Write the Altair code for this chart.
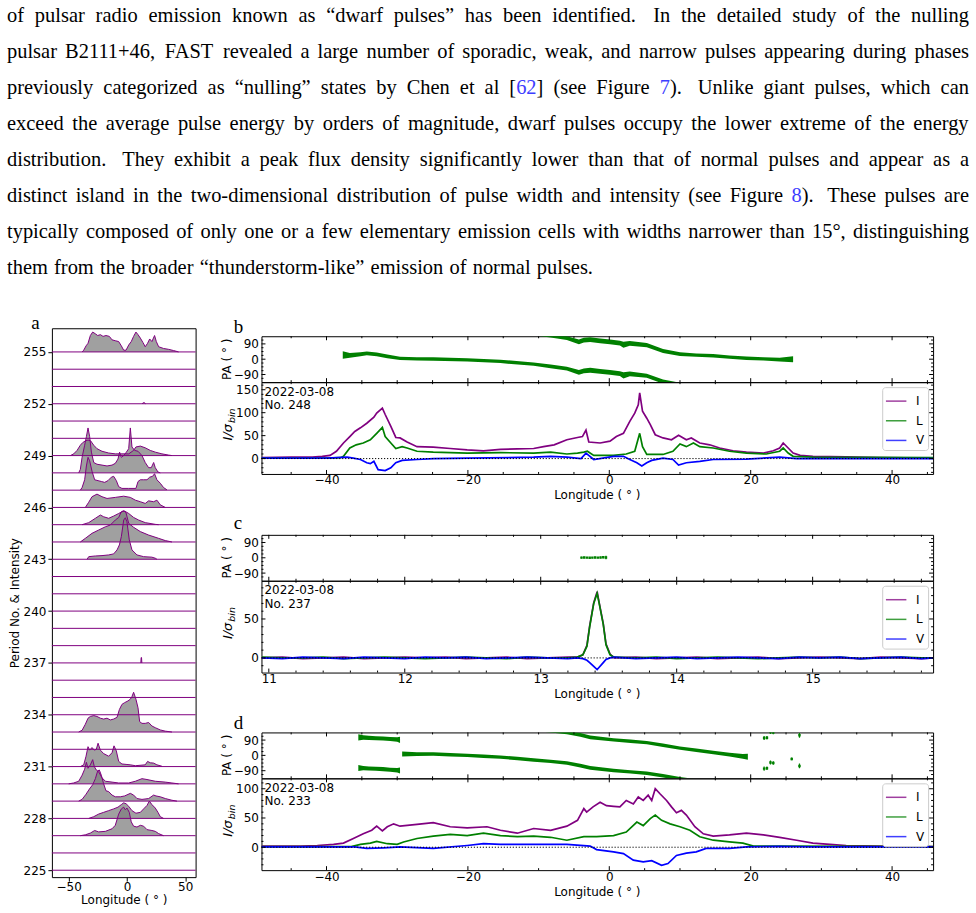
import altair as alt
import pandas as pd

SANS = "DejaVu Sans"
SERIF = "Liberation Serif"
PURPLE = "#800080"
GREEN = "#008000"
BLUE = "#0000ff"
LINK = "#3d3dff"

# ---------------- paragraph text ----------------
TEXT_LINES = [
    "of pulsar radio emission known as “dwarf pulses” has been identified.  In the detailed study of the nulling",
    "pulsar B2111+46, FAST revealed a large number of sporadic, weak, and narrow pulses appearing during phases",
    "previously categorized as “nulling” states by Chen et al [{62}] (see Figure {7}).  Unlike giant pulses, which can",
    "exceed the average pulse energy by orders of magnitude, dwarf pulses occupy the lower extreme of the energy",
    "distribution.  They exhibit a peak flux density significantly lower than that of normal pulses and appear as a",
    "distinct island in the two-dimensional distribution of pulse width and intensity (see Figure {8}).  These pulses are",
    "typically composed of only one or a few elementary emission cells with widths narrower than 15°, distinguishing",
    "them from the broader “thunderstorm-like” emission of normal pulses.",
]
TEXT_JUSTIFIED = [True, True, True, True, True, True, True, False]

# ---------------- panel a : single-pulse stack ----------------
A_PERIODS = list(range(225, 256))
A_TICKS = list(range(225, 256, 3))

A255_LON = [-38.5, -37.1, -35.1, -33.4, -31.4, -29.4, -27.1, -25.1, -22.8, -20.5, -18.0, -15.1, -12.8, -10.0, -7.1, -4.8, -2.8, -0.8, 1.5, 3.7, 5.7, 7.7, 9.5, 11.5, 13.7, 15.7, 17.7, 19.5, 21.4, 23.7, 25.2, 27.2, 31.4, 35.7, 40.0, 44.3]
A255_H = [0, 0.1, 0.35, 0.5, 0.95, 1.15, 1.05, 0.95, 1.0, 0.9, 0.95, 0.9, 0.7, 0.65, 0.6, 0.35, 0.1, 0.1, 0.4, 0.6, 0.9, 1.15, 1.0, 0.8, 0.55, 0.3, 0.5, 0.75, 0.6, 0.95, 0.6, 0.3, 0.2, 0.15, 0.08, 0]
A252_LON = [13.0, 14.0, 15.0, 16.0]
A252_H = [0, 0.06, 0.06, 0]
A249_LON = [-48.5, -45.7, -42.8, -40.0, -38.0, -35.7, -33.4, -31.1, -28.5, -25.7, -21.4, -15.7, -10.0, -5.7, 1.5, 5.7, 7.7, 11.5, 15.7, 20.0, 24.3, 30.0, 35.7, 38.6]
A249_H = [0, 0.1, 0.3, 0.6, 0.75, 0.85, 0.9, 0.85, 0.6, 0.4, 0.25, 0.15, 0.1, 0.1, 0.1, 0.3, 0.5, 0.55, 0.45, 0.3, 0.2, 0.1, 0.03, 0]
A248_LON = [-41.4, -40.0, -38.5, -36.3, -34.8, -33.4, -32.0, -30.5, -28.5, -25.7, -21.4, -17.1, -12.8, -10.0, -7.7, -6.3, -4.8, -2.8, -0.5, 1.5, 2.9, 4.3, 6.6, 9.5, 12.9, 15.7, 18.6, 20.9, 22.9, 24.3, 26.6, 28.6]
A248_H = [0, 0.2, 0.9, 1.6, 2.1, 2.6, 2.1, 1.2, 0.6, 0.5, 0.45, 0.4, 0.45, 0.55, 0.8, 1.2, 0.9, 1.0, 1.2, 1.4, 2.6, 1.5, 1.3, 1.25, 1.0, 0.6, 0.3, 0.3, 0.6, 0.3, 0.05, 0]
A247_LON = [-40.0, -38.5, -36.3, -34.8, -33.4, -32.0, -30.0, -27.7, -24.8, -22.0, -19.1, -16.3, -13.4, -11.4, -9.1, -7.1, -4.3, 1.5, 7.7, 9.5, 11.5, 14.3, 17.2, 19.5, 22.0, 23.7, 25.7, 28.6, 31.4, 34.3]
A247_H = [0, 0.15, 0.6, 1.4, 1.9, 1.7, 1.1, 0.6, 0.55, 0.5, 0.45, 0.55, 0.75, 0.8, 0.55, 0.2, 0.1, 0.1, 0.1, 0.5, 0.6, 0.6, 0.6, 0.75, 0.8, 0.95, 0.6, 0.4, 0.15, 0.02]
A246_LON = [-35.7, -32.8, -30.0, -25.7, -21.4, -17.1, -10.0, -2.8, 2.9, 7.2, 11.5, 15.7, 18.6, 22.9, 25.7, 28.6, 32.9]
A246_H = [0, 0.3, 0.62, 0.77, 0.62, 0.52, 0.58, 0.65, 0.58, 0.42, 0.33, 0.23, 0.38, 0.33, 0.42, 0.15, 0]
A245_LON = [-38.5, -32.8, -27.1, -22.8, -20.0, -15.7, -11.4, -7.1, -4.3, -2.0, 1.5, 5.7, 10.0, 15.7, 24.3, 27.2]
A245_H = [0, 0.12, 0.37, 0.56, 0.46, 0.37, 0.5, 0.65, 0.75, 0.79, 0.65, 0.42, 0.27, 0.12, 0.02, 0]
A244_LON = [-40.0, -35.7, -30.0, -24.3, -18.5, -14.3, -10.0, -7.1, -4.8, -2.8, -0.8, 1.5, 5.7, 11.5, 18.6, 27.2, 32.9, 38.6]
A244_H = [0, 0.21, 0.5, 0.69, 0.88, 0.98, 1.27, 1.42, 1.75, 1.81, 1.69, 1.08, 0.85, 0.6, 0.4, 0.21, 0.08, 0]
A243_LON = [-34.2, -32.8, -27.1, -21.4, -15.7, -11.4, -8.5, -6.5, -4.8, -2.8, -1.4, 0.0, 2.0, 4.3, 8.6, 14.3, 21.4, 24.3, 25.7]
A243_H = [0, 0.15, 0.19, 0.21, 0.25, 0.31, 0.54, 0.83, 1.31, 2.27, 2.4, 2.17, 1.12, 0.54, 0.25, 0.15, 0.12, 0.06, 0]
A237_LON = [11.9, 12.2, 12.5, 12.8]
A237_H = [0, 0.31, 0.31, 0]
A233_LON = [-41.4, -38.5, -35.7, -33.4, -31.4, -28.5, -25.7, -22.8, -20.0, -17.1, -14.3, -11.4, -8.5, -6.5, -4.3, -2.0, 0.9, 2.9, 4.3, 5.7, 7.7, 9.5, 10.9, 12.9, 15.7, 18.6, 21.4, 24.3, 28.6, 32.9, 38.6]
A233_H = [0, 0.1, 0.45, 0.8, 0.9, 0.95, 0.9, 0.8, 0.75, 0.8, 0.7, 0.75, 0.85, 1.3, 1.6, 1.7, 1.8, 1.9, 2.05, 2.3, 1.9, 1.4, 0.6, 0.5, 0.5, 0.55, 0.35, 0.25, 0.12, 0.05, 0]
A231_LON = [-40.0, -37.1, -35.1, -33.4, -32.0, -30.0, -28.0, -26.3, -24.8, -22.8, -20.0, -15.7, -12.8, -11.1, -9.1, -7.1, -4.3, 0.0, 2.9, 7.2, 15.7, 17.7, 20.0, 22.9, 25.7, 30.0]
A231_H = [0, 0.1, 0.6, 1.15, 0.95, 1.1, 0.95, 1.0, 1.35, 0.95, 0.75, 0.6, 0.8, 1.2, 0.9, 0.3, 0.15, 0.12, 0.1, 0.05, 0.1, 0.3, 0.22, 0.2, 0.1, 0.02]
A230_LON = [-50.0, -45.7, -41.4, -38.5, -36.3, -34.8, -33.4, -31.4, -29.4, -28.0, -26.3, -24.3, -21.4, -18.5, -12.8, -7.1, 1.5, 7.2, 12.9, 17.2, 24.3, 32.9, 38.6, 44.3]
A230_H = [0, 0.05, 0.15, 0.5, 0.85, 1.25, 0.9, 1.1, 1.4, 1.0, 0.8, 0.7, 0.35, 0.15, 0.1, 0.05, 0.05, 0.15, 0.3, 0.25, 0.15, 0.1, 0.05, 0]
A229_LON = [-41.4, -38.5, -35.1, -32.2, -29.4, -27.1, -25.1, -23.7, -22.0, -20.0, -18.0, -15.7, -12.8, -10.0, -5.7, -2.0, 2.9, 5.7, 8.6, 12.9, 18.6, 22.9, 24.9, 28.6, 32.9, 38.6, 42.9]
A229_H = [0, 0.1, 0.4, 0.7, 0.95, 1.3, 1.75, 1.8, 1.5, 1.0, 0.6, 0.55, 0.35, 0.25, 0.25, 0.3, 0.45, 0.35, 0.15, 0.1, 0.15, 0.35, 0.3, 0.25, 0.15, 0.05, 0]
A228_LON = [-32.8, -28.5, -24.3, -20.0, -15.7, -11.4, -7.7, -4.8, -2.8, -0.8, 1.5, 4.3, 7.7, 11.5, 14.3, 17.2, 19.2, 21.4, 24.3, 26.6, 28.6, 31.4]
A228_H = [0, 0.1, 0.25, 0.35, 0.45, 0.55, 0.65, 0.8, 0.9, 0.85, 0.7, 0.45, 0.3, 0.35, 0.55, 0.75, 1.0, 0.8, 0.6, 0.35, 0.1, 0]
A227_LON = [-40.0, -35.7, -31.4, -27.7, -24.3, -18.5, -12.8, -10.0, -7.1, -4.8, -2.8, -1.4, 0.0, 2.0, 3.7, 5.7, 8.6, 11.5, 14.3, 17.2, 21.4, 24.3, 27.2, 31.4]
A227_H = [0, 0.05, 0.15, 0.3, 0.22, 0.25, 0.4, 0.6, 1.25, 1.55, 1.65, 1.5, 1.6, 1.35, 0.8, 0.55, 0.5, 0.6, 0.55, 0.35, 0.3, 0.25, 0.12, 0]

A_PULSES = [
    (255, A255_LON, A255_H), (252, A252_LON, A252_H), (249, A249_LON, A249_H),
    (248, A248_LON, A248_H), (247, A247_LON, A247_H), (246, A246_LON, A246_H),
    (245, A245_LON, A245_H), (244, A244_LON, A244_H), (243, A243_LON, A243_H),
    (237, A237_LON, A237_H), (233, A233_LON, A233_H), (231, A231_LON, A231_H),
    (230, A230_LON, A230_H), (229, A229_LON, A229_H), (228, A228_LON, A228_H),
    (227, A227_LON, A227_H),
]

# ---------------- panel b : No. 248 ----------------
B_I_LON = [-49.2, -45.0, -42.0, -40.6, -39.5, -38.6, -37.6, -36.7, -36.0, -35.2, -34.3, -33.3, -32.9, -32.1, -31.7, -30.9, -30.2, -29.6, -28.6, -27.2, -24.9, -22.5, -20.1, -17.8, -15.4, -13.0, -10.7, -9.3, -7.8, -6.0, -4.5, -3.8, -3.3, -2.9, -1.3, 0.1, 1.0, 2.0, 2.9, 3.6, 4.1, 4.3, 4.7, 5.3, 5.8, 6.5, 7.6, 8.8, 9.8, 10.9, 11.6, 12.8, 14.2, 15.6, 17.5, 19.4, 21.8, 23.2, 24.1, 24.6, 25.3, 26.0, 27.0, 28.8, 33.5, 38.2, 45.8]
B_I_VAL = [2, 3, 3, 5, 7, 16, 34, 48, 59, 67, 77, 90, 99, 110, 96, 70, 46, 45, 36, 26, 25, 22, 19, 17, 20, 21, 22, 26, 30, 41, 46, 48, 62, 36, 34, 38, 48, 55, 81, 99, 117, 143, 103, 88, 74, 52, 45, 41, 51, 41, 45, 34, 30, 23, 17, 14, 12, 17, 23, 34, 23, 12, 7, 5, 4, 2, 1]
B_L_LON = [-49.2, -40.0, -38.0, -37.6, -36.7, -35.8, -34.8, -33.8, -32.9, -32.1, -31.7, -30.9, -30.2, -29.3, -28.6, -27.2, -24.9, -20.1, -15.4, -10.7, -8.3, -6.0, -4.5, -3.6, -3.1, -2.2, 0.6, 2.4, 3.6, 4.3, 4.7, 5.3, 7.6, 9.0, 10.0, 10.9, 11.9, 12.8, 14.7, 17.0, 19.4, 22.2, 24.1, 24.6, 25.3, 26.0, 28.8, 45.8]
B_L_VAL = [1, 1, 2, 5, 23, 30, 34, 41, 55, 68, 48, 34, 22, 26, 23, 16, 14, 12, 13, 12, 14, 10, 12, 14, 16, 7, 7, 10, 16, 55, 26, 9, 9, 16, 32, 26, 34, 26, 23, 16, 12, 10, 16, 23, 12, 5, 3, 2]
B_V_LON = [-49.2, -40.0, -37.1, -36.2, -35.2, -34.3, -33.8, -33.3, -32.7, -31.7, -30.9, -30.2, -29.3, -27.2, -24.9, -20.1, -10.7, -8.3, -6.0, -4.0, -3.3, -2.2, 0.6, 2.0, 2.9, 3.9, 4.6, 5.3, 6.0, 7.6, 9.0, 9.8, 10.9, 12.8, 14.7, 19.4, 24.1, 26.5, 45.8]
B_V_VAL = [1, 1, 3, 1, -2, -9, -11, -6, -24, -26, -20, -9, -4, -2, 0, 1, 3, 5, 3, 0, 12, -2, 5, 5, -2, -9, -16, -9, -4, 1, -2, -14, -9, -6, -2, -1, 3, 0, 0]
B_PA_LON = [-37.7, -36.7, -35.2, -34.3, -32.9, -31.4, -29.6, -27.2, -24.9, -20.1, -15.4, -10.7, -8.3, -6.0, -4.3, -3.6, -2.7, -1.3, 0.1, 1.5, 2.0, 2.9, 5.3, 7.6, 10.0, 12.3, 14.7, 17.0, 19.4, 21.8, 24.1, 26.0]
B_PA_VAL = [25, 22, 29, 34, 29, 16, 5, 2, 1, -4, -13, -29, -42, -56, -78, -68, -65, -72, -78, -85, -95, -87, -97, -132, -150, -156, -160, -168, -174, -178, -182, -180]
B_PA_ERR = [22, 14, 12, 11, 11, 11, 10, 10, 10, 10, 10, 10, 11, 11, 14, 14, 14, 14, 14, 14, 18, 14, 12, 12, 11, 10, 10, 10, 10, 10, 11, 18]

# ---------------- panel c : No. 237 ----------------
C_LON = [10.95, 11.1, 11.25, 11.4, 11.55, 11.7, 11.85, 12.0, 12.15, 12.3, 12.45, 12.6, 12.75, 12.9, 13.05, 13.2, 13.27, 13.31, 13.34, 13.36, 13.39, 13.415, 13.43, 13.46, 13.48, 13.51, 13.54, 13.7, 13.85, 14.0, 14.15, 14.3, 14.45, 14.6, 14.75, 14.9, 15.05, 15.2, 15.35, 15.5, 15.65, 15.8, 15.89]
C_I_VAL = [0, 1, -1, 0, 1, -1, 0, 1, 0, 1, -1, 0, 1, -1, 0, 1, 1, 4, 16, 41, 71, 85, 71, 44, 18, 5, 0, 1, -1, 0, 1, -1, 0, 1, -1, 0, 1, 0, -1, 1, 0, -1, 0]
C_L_VAL = [1, 0, 0, 1, -1, 0, 1, 0, -1, 0, 1, 0, -1, 1, 0, 0, 1, 4, 15, 40, 70, 83, 70, 43, 17, 4, 1, 0, 1, -1, 0, 1, 0, -1, 0, 1, 0, 1, -1, 0, 1, 0, 0]
C_V_VAL = [0, -1, 1, 0, -1, 1, 0, -1, 1, 0, 1, -1, 0, 1, 0, -1, 0, -1, -3, -6, -11, -15, -12, -6, -2, 0, 1, -1, 0, 1, -1, 0, 1, 0, -1, 1, 0, 1, -1, 0, 1, -1, 0]
C_PA_LON = [13.30, 13.32, 13.34, 13.36, 13.38, 13.40, 13.42, 13.44, 13.46, 13.48]
C_PA_VAL = [1, 2, 1, 0, 1, 2, 1, 2, 3, 2]
C_PA_ERR = [5, 4, 4, 4, 4, 4, 4, 4, 5, 10]

# ---------------- panel d : No. 233 ----------------
D_I_LON = [-49.2, -43.7, -41.3, -39.0, -37.6, -36.2, -34.8, -33.6, -32.9, -32.1, -31.4, -30.5, -29.6, -27.2, -24.9, -22.5, -20.1, -17.3, -15.4, -13.0, -10.7, -8.3, -6.0, -4.5, -3.6, -3.2, -2.3, -1.3, -0.4, 0.6, 1.5, 2.4, 3.4, 4.1, 4.8, 5.5, 6.0, 6.5, 7.2, 8.1, 8.8, 9.5, 10.2, 10.9, 12.1, 13.3, 14.7, 17.0, 19.4, 21.8, 24.1, 26.5, 28.8, 31.2, 33.5, 38.2, 45.8]
D_I_VAL = [2, 2, 3, 5, 7, 15, 23, 29, 36, 28, 35, 40, 36, 39, 42, 35, 33, 35, 29, 24, 32, 29, 36, 46, 66, 60, 69, 77, 71, 70, 69, 80, 74, 86, 80, 89, 80, 100, 91, 80, 69, 59, 63, 55, 35, 23, 19, 21, 24, 21, 17, 12, 7, 5, 3, 2, 1]
D_L_LON = [-49.2, -36.5, -35.2, -33.8, -32.9, -31.4, -30.0, -29.1, -27.2, -24.9, -22.5, -20.1, -17.8, -15.4, -13.0, -10.7, -8.3, -6.0, -3.6, -1.8, 0.6, 2.4, 3.9, 4.8, 5.8, 6.5, 7.4, 8.6, 10.0, 11.4, 12.8, 14.7, 17.0, 18.9, 20.4, 24.0, 45.8]
D_L_VAL = [1, 1, 5, 7, 10, 6, 5, 9, 15, 19, 22, 20, 24, 20, 18, 19, 17, 12, 18, 18, 20, 26, 43, 37, 49, 55, 46, 40, 35, 29, 18, 12, 9, 7, 2, 2, 1]
D_V_LON = [-49.2, -36.0, -34.3, -31.9, -29.6, -24.9, -20.1, -17.8, -15.4, -10.7, -6.0, -2.7, -1.8, 0.6, 2.0, 3.4, 4.8, 6.0, 7.4, 8.3, 9.5, 10.9, 12.3, 13.7, 17.0, 19.4, 24.0, 28.8, 45.8]
D_V_VAL = [0.5, 0.5, -2, -1, 0.5, -2, 3, 6, 5, 5, 5, 2, -4, -8, -11, -22, -25, -23, -31, -28, -14, -10, -8, -2, -2, 0.5, 1.5, 0.5, 0.5]
D_PA_A_LON = [-35.5, -34.8, -34.0, -33.0, -32.0, -31.0, -30.0, -29.6]
D_PA_A_VAL = [-74, -75, -77, -79, -81, -84, -87, -89]
D_PA_A_ERR = [18, 13, 12, 12, 12, 12, 13, 18]
D_PA_B_LON = [-29.3, -27.2, -24.9, -22.5, -20.1, -17.8, -15.4, -13.0, -10.7, -8.3, -6.0, -4.1, -2.7, 0.6, 3.0, 5.3, 7.6, 10.0, 12.3, 14.7, 17.0, 18.9, 19.6]
D_PA_B_VAL = [8, 8, 8, 4, 0, -5, -10, -18, -27, -35, -45, -60, -74, -89, -97, -105, -120, -137, -150, -163, -176, -186, -188]
D_PA_B_ERR = [15, 11, 10, 10, 10, 10, 10, 10, 10, 10, 10, 11, 11, 10, 10, 10, 10, 10, 10, 10, 11, 14, 18]
D_PA_S_LON = [21.9, 22.3, 22.8, 23.2, 25.8, 26.9]
D_PA_S_VAL = [-78, -76, -42, -45, -21, -62]
D_PA_S_ERR = [12, 10, 12, 10, 8, 14]

# ---------------- layout (page pixels) ----------------
A_LEFT, A_TOP, A_W, A_H = 51, 327, 144, 550
R_LEFT, R_W = 261, 673
PA_H, INT_H = 46, 92
B_TOP, C_TOP, D_TOP = 335, 534, 732
FS = 20.5
TEXT_BASE0, TEXT_STEP = 20.5, 36.05

TIMES = {' ': 250, '(': 333, ')': 333, '+': 564, ',': 250, '-': 333, '.': 250, '[': 333, ']': 333,
         '°': 400, '“': 444, '”': 444, 'A': 722, 'B': 667, 'C': 667, 'F': 556, 'I': 333, 'L': 611,
         'S': 556, 'T': 611, 'U': 722, 'a': 444, 'b': 500, 'c': 444, 'd': 500, 'e': 444, 'f': 333,
         'g': 500, 'h': 500, 'i': 278, 'j': 278, 'k': 500, 'l': 278, 'm': 778, 'n': 500, 'o': 500,
         'p': 500, 'q': 500, 'r': 333, 's': 389, 't': 278, 'u': 500, 'v': 500, 'w': 722, 'x': 500,
         'y': 500, 'z': 444}


def wem(s):
    return sum(TIMES.get(ch, 500) for ch in s) / 1000.0


def parse(tok):
    segs, buf, blue = [], "", False
    for ch in tok:
        if ch == "{":
            if buf:
                segs.append((buf, blue))
            buf, blue = "", True
        elif ch == "}":
            segs.append((buf, True))
            buf, blue = "", False
        else:
            buf += ch
    if buf:
        segs.append((buf, blue))
    return segs


def text_rows():
    rows = []
    X0, X1 = 6.0, 970.0
    for i, (line, just) in enumerate(zip(TEXT_LINES, TEXT_JUSTIFIED)):
        yb = TEXT_BASE0 + TEXT_STEP * i
        words, gaps, flag = [], [], False
        for p in line.split(" "):
            if p == "":
                flag = True
                continue
            if words:
                gaps.append(1.6 if flag else 1.0)
            flag = False
            words.append(parse(p))
        widths = [sum(wem(s) for s, _ in w) * FS for w in words]
        if just and gaps:
            unit = (X1 - X0 - sum(widths)) / sum(gaps)
        else:
            unit = 0.3 * FS
        x = X0
        for k, w in enumerate(words):
            xx = x
            for s, blue in w:
                rows.append(dict(x=xx, y=yb, t=s, c=LINK if blue else "black"))
                xx += wem(s) * FS
            x += widths[k] + (unit * gaps[k] if k < len(gaps) else 0)
    return pd.DataFrame(rows)


NOSTROKE = alt.ViewBackground(stroke="transparent")


def label(txt, x, y, size=12, font=SANS, **kw):
    return alt.Chart(pd.DataFrame({"t": [txt]})).mark_text(
        font=font, fontSize=size, color="black", **kw
    ).encode(text="t:N", x=alt.value(x), y=alt.value(y))


# ---------------- text chart ----------------
TXT_W = R_LEFT + R_W - A_LEFT
xs_page = alt.Scale(domain=[A_LEFT, A_LEFT + TXT_W], nice=False, zero=False)
ys_page = alt.Scale(domain=[0, A_TOP], nice=False, zero=False, reverse=True)
page_rect = alt.Chart(pd.DataFrame({"x": [0], "x2": [976], "y": [0], "y2": [913]})).mark_rect(
    fill="white", fillOpacity=0, strokeWidth=0
).encode(
    x=alt.X("x:Q", scale=xs_page, axis=None), x2="x2:Q",
    y=alt.Y("y:Q", scale=ys_page, axis=None), y2="y2:Q",
)
words = alt.Chart(text_rows()).mark_text(
    font=SERIF, fontSize=FS, align="left", baseline="alphabetic"
).encode(
    x=alt.X("x:Q", scale=xs_page, axis=None),
    y=alt.Y("y:Q", scale=ys_page, axis=None),
    text="t:N",
    color=alt.Color("c:N", scale=None),
)
text_chart = alt.layer(page_rect, words).properties(width=TXT_W, height=A_TOP, view=NOSTROKE)

# ---------------- panel a ----------------
rows = []
for p, lons, hs in A_PULSES:
    if len(lons) != len(hs):
        raise ValueError(f"pulse {p}: {len(lons)} vs {len(hs)}")
    for lo, h in zip(lons, hs):
        rows.append(dict(p=p, lon=lo, top=p + h, base=p))
df_a = pd.DataFrame(rows)
xs_a = alt.Scale(domain=[-64.4, 58.9], nice=False, zero=False)
ys_a = alt.Scale(domain=[224.6, 256.37], nice=False, zero=False)
ax_xa = alt.Axis(values=[-50, 0, 50], title="Longitude ( ° )", grid=False, domain=False, tickSize=4,
                 labelPadding=0, titlePadding=2, format="d")
ax_ya = alt.Axis(values=A_TICKS, title="Period No. & Intensity", grid=False, domain=False, tickSize=4,
                 labelPadding=2, titlePadding=2, format="d")
a_rules = alt.Chart(pd.DataFrame({"p": A_PERIODS})).mark_rule(color=PURPLE, strokeWidth=1).encode(
    y=alt.Y("p:Q", scale=ys_a, axis=ax_ya)
)
a_area = alt.Chart(df_a).mark_area(color="#808080", opacity=0.75).encode(
    x=alt.X("lon:Q", scale=xs_a, axis=ax_xa),
    y=alt.Y("top:Q", scale=ys_a, axis=ax_ya, stack=False),
    y2="base:Q",
    detail="p:N",
)
a_line = alt.Chart(df_a).mark_line(color=PURPLE, strokeWidth=1).encode(
    x=alt.X("lon:Q", scale=xs_a, axis=ax_xa),
    y=alt.Y("top:Q", scale=ys_a, axis=ax_ya, stack=False),
    detail="p:N",
)
a_lab = label("a", 34.5 - A_LEFT, 328 - A_TOP, size=19, font=SERIF, align="center", baseline="alphabetic")
panel_a = alt.layer(a_area, a_rules, a_line, a_lab).properties(width=A_W, height=A_H)


# ---------------- panels b, c, d ----------------
def tick_layers(xs, ys, xax, yax, W, H, xmaj, xmin, ymaj, ymin):
    out = []

    def xr(vals, y1, y2):
        return alt.Chart(pd.DataFrame({"v": vals})).mark_rule(color="black", strokeWidth=1).encode(
            x=alt.X("v:Q", scale=xs, axis=xax), y=alt.value(y1), y2=alt.value(y2))

    def yr(vals, x1, x2):
        return alt.Chart(pd.DataFrame({"v": vals})).mark_rule(color="black", strokeWidth=1).encode(
            y=alt.Y("v:Q", scale=ys, axis=yax), x=alt.value(x1), x2=alt.value(x2))

    out += [xr(xmaj, H, H - 4), xr(xmaj, 0, 4), xr(xmin, H, H - 2), xr(xmin, 0, 2)]
    out += [yr(ymaj, 0, 4), yr(ymaj, W, W - 4), yr(ymin, 0, 2), yr(ymin, W, W - 2)]
    return out


PA_MAJ = [-90, 0, 90]
PA_MIN = [-112.5, -67.5, -45, -22.5, 22.5, 45, 67.5, 112.5]


def pa_chart(xdom, segs, sparse, xmaj, xmin):
    W, H = R_W, PA_H
    xs = alt.Scale(domain=xdom, nice=False, zero=False)
    ys = alt.Scale(domain=[-135, 135], nice=False, zero=False)
    yax = alt.Axis(values=PA_MAJ, ticks=False, tickSize=0, domain=False, grid=False, labelPadding=3,
                   title=None, format="d")
    layers = []
    if segs:
        rows = []
        for si, (lons, pas, errs) in enumerate(segs):
            if not (len(lons) == len(pas) == len(errs)):
                raise ValueError("PA segment length mismatch")
            for k in (0, 1):
                for lo, p, e in zip(lons, pas, errs):
                    q = p + 180 * k
                    rows.append(dict(key=f"{si}_{k}", lon=lo, lo=q - e, hi=q + e))
        layers.append(alt.Chart(pd.DataFrame(rows)).mark_area(color=GREEN, clip=True).encode(
            x=alt.X("lon:Q", scale=xs, axis=None),
            y=alt.Y("lo:Q", scale=ys, axis=yax, stack=False),
            y2="hi:Q", detail="key:N"))
    if sparse:
        lons, pas, errs = sparse
        rows = []
        for k in (0, 1):
            for lo, p, e in zip(lons, pas, errs):
                q = p + 180 * k
                rows.append(dict(lon=lo, mid=q, lo=q - e, hi=q + e))
        dfs = pd.DataFrame(rows)
        layers.append(alt.Chart(dfs).mark_rule(color=GREEN, clip=True, strokeWidth=1.2).encode(
            x=alt.X("lon:Q", scale=xs, axis=None),
            y=alt.Y("lo:Q", scale=ys, axis=yax), y2="hi:Q"))
        layers.append(alt.Chart(dfs).mark_point(color=GREEN, clip=True, filled=True, shape="square",
                                                size=6, opacity=1).encode(
            x=alt.X("lon:Q", scale=xs, axis=None),
            y=alt.Y("mid:Q", scale=ys, axis=yax)))
    layers += tick_layers(xs, ys, None, yax, W, H, xmaj, xmin, PA_MAJ, PA_MIN)
    layers.append(label("PA ( ° )", -34.5, H / 2, angle=270, align="center", baseline="middle"))
    return alt.layer(*layers).properties(width=W, height=H)


LEG = alt.Legend(title=None, orient="top-right", offset=5, padding=3, strokeColor="#cccccc",
                 fillColor="white", cornerRadius=3, symbolType="stroke", symbolSize=420,
                 symbolStrokeWidth=1.5, symbolOpacity=0.75, labelFont=SANS, labelFontSize=12,
                 labelOffset=9, rowPadding=2.7, labelColor="black")


def int_chart(xdom, ydom, series, xmaj, xmin, ymaj, ymin, date, no):
    W, H = R_W, INT_H
    xs = alt.Scale(domain=xdom, nice=False, zero=False)
    ys = alt.Scale(domain=ydom, nice=False, zero=False)
    xax = alt.Axis(values=xmaj, ticks=False, tickSize=0, domain=False, grid=False, labelPadding=1,
                   title=None, format="d")
    yax = alt.Axis(values=ymaj, ticks=False, tickSize=0, domain=False, grid=False, labelPadding=3,
                   title=None, format="d")
    rows = []
    for name, lons, vals in series:
        if len(lons) != len(vals):
            raise ValueError(f"{no} {name}: {len(lons)} vs {len(vals)}")
        for lo, v in zip(lons, vals):
            rows.append(dict(s=name, lon=lo, val=v))
    lines = alt.Chart(pd.DataFrame(rows)).mark_line(strokeWidth=1.7, clip=True).encode(
        x=alt.X("lon:Q", scale=xs, axis=xax),
        y=alt.Y("val:Q", scale=ys, axis=yax),
        color=alt.Color("s:N", scale=alt.Scale(domain=["I", "L", "V"], range=[PURPLE, GREEN, BLUE]),
                        legend=LEG),
    )
    zero = alt.Chart(pd.DataFrame({"z": [0]})).mark_rule(
        color="black", strokeDash=[1.2, 1.8], strokeWidth=1).encode(y=alt.Y("z:Q", scale=ys, axis=yax))
    layers = [lines, zero]
    layers += tick_layers(xs, ys, xax, yax, W, H, xmaj, xmin, ymaj, ymin)
    layers.append(label(date, 3, 9.5, align="left", baseline="middle"))
    layers.append(label(no, 3, 23, align="left", baseline="middle"))
    layers.append(label("I/σ", -30, 42, size=13, fontStyle="italic", angle=270, align="right",
                        baseline="alphabetic"))
    layers.append(label("bin", -27, 41, size=9.5, fontStyle="italic", angle=270, align="left",
                        baseline="alphabetic"))
    layers.append(label("Longitude ( ° )", W / 2, H + 21.5, align="center", baseline="middle"))
    return alt.layer(*layers).properties(width=W, height=H)


BD_DOM = [-49.2, 45.8]
BD_XMAJ = [-40, -20, 0, 20, 40]
BD_XMIN = [v for v in range(-45, 46, 5) if v % 20 != 0]
C_DOM = [10.946, 15.886]
C_XMAJ = [11, 12, 13, 14, 15]
C_XMIN = [round(11 + 0.2 * k, 1) for k in range(0, 25) if k % 5 != 0]

b_pa = pa_chart(BD_DOM, [(B_PA_LON, B_PA_VAL, B_PA_ERR)], None, BD_XMAJ, BD_XMIN)
b_int = int_chart(BD_DOM, [-33.5, 166.5],
                  [("I", B_I_LON, B_I_VAL), ("L", B_L_LON, B_L_VAL), ("V", B_V_LON, B_V_VAL)],
                  BD_XMAJ, BD_XMIN, [0, 50, 100, 150],
                  [v for v in range(-30, 161, 10) if v % 50 != 0], "2022-03-08", "No. 248")
c_pa = pa_chart(C_DOM, [], (C_PA_LON, C_PA_VAL, C_PA_ERR), C_XMAJ, C_XMIN)
c_int = int_chart(C_DOM, [-18.8, 99.1],
                  [("I", C_LON, C_I_VAL), ("L", C_LON, C_L_VAL), ("V", C_LON, C_V_VAL)],
                  C_XMAJ, C_XMIN, [0, 50], [v for v in range(-10, 91, 10) if v % 50 != 0],
                  "2022-03-08", "No. 237")
d_pa = pa_chart(BD_DOM, [(D_PA_A_LON, D_PA_A_VAL, D_PA_A_ERR), (D_PA_B_LON, D_PA_B_VAL, D_PA_B_ERR)],
                (D_PA_S_LON, D_PA_S_VAL, D_PA_S_ERR), BD_XMAJ, BD_XMIN)
d_int = int_chart(BD_DOM, [-39.2, 117.8],
                  [("I", D_I_LON, D_I_VAL), ("L", D_L_LON, D_L_VAL), ("V", D_V_LON, D_V_VAL)],
                  BD_XMAJ, BD_XMIN, [0, 50, 100],
                  [v for v in range(-30, 111, 10) if v % 50 != 0], "2022-03-08", "No. 233")


def spacer(h, letter, x_page, y_base_page, top_page):
    return label(letter, x_page - R_LEFT, y_base_page - top_page, size=19, font=SERIF,
                 align="center", baseline="alphabetic").properties(width=R_W, height=h, view=NOSTROKE)


sp_top = spacer(B_TOP - A_TOP, "b", 238, 332, A_TOP)
sp_bc = spacer(C_TOP - (B_TOP + PA_H + INT_H), "c", 237.5, 528, B_TOP + PA_H + INT_H)
sp_cd = spacer(D_TOP - (C_TOP + PA_H + INT_H), "d", 238, 729, C_TOP + PA_H + INT_H)

right_col = alt.vconcat(sp_top, b_pa, b_int, sp_bc, c_pa, c_int, sp_cd, d_pa, d_int,
                        spacing=0, bounds="flush").resolve_scale(
    x="independent", y="independent", color="independent").resolve_legend(color="independent")

fig_row = alt.hconcat(panel_a, right_col, spacing=R_LEFT - (A_LEFT + A_W), bounds="flush").resolve_scale(
    x="independent", y="independent")

chart = alt.vconcat(text_chart, fig_row, spacing=0, bounds="flush").resolve_scale(
    x="independent", y="independent").properties(padding=0).configure_view(
    stroke="black", strokeWidth=1).configure_axis(
    labelFont=SANS, labelFontSize=12, labelColor="black", titleFont=SANS, titleFontSize=12,
    titleFontWeight="normal", titleColor="black", tickColor="black", domainColor="black", tickWidth=1)

chart.save("out.html", embed_options={"renderer": "svg", "actions": False})
